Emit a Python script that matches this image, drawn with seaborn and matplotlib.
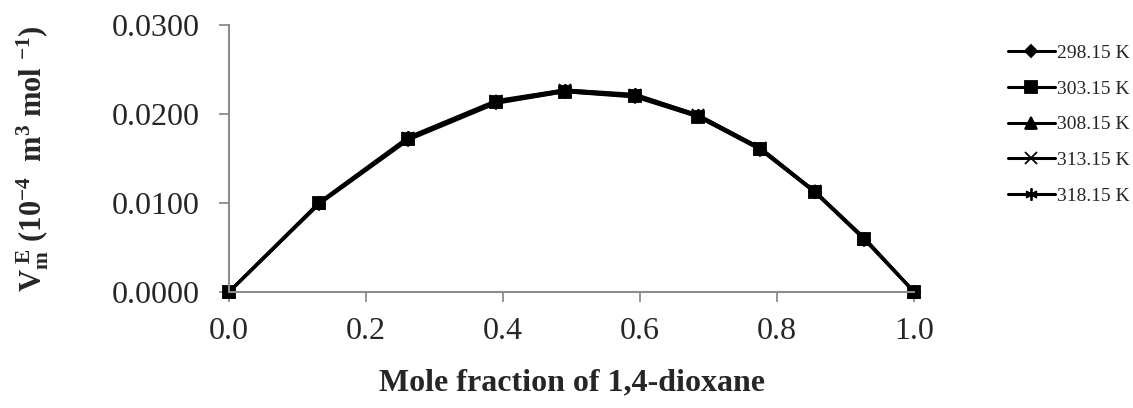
import pandas as pd
import matplotlib
matplotlib.use('Agg')
import matplotlib.pyplot as plt
import seaborn as sns

# mole fraction of 1,4-dioxane
x_frac = [0.0, 0.132, 0.262, 0.390, 0.490, 0.593, 0.684, 0.775, 0.855, 0.927, 1.0]

# excess molar volume at each temperature (10^-4 m3 mol-1)
v_298 = [0.0, 0.0099, 0.0171, 0.0212, 0.0225, 0.0219, 0.0197, 0.0160, 0.0112, 0.0059, 0.0]
v_303 = [0.0, 0.0100, 0.0172, 0.0213, 0.0225, 0.0220, 0.0197, 0.0161, 0.0112, 0.0060, 0.0]
v_308 = [0.0, 0.0100, 0.0173, 0.0214, 0.0226, 0.0221, 0.0198, 0.0161, 0.0113, 0.0060, 0.0]
v_313 = [0.0, 0.0100, 0.0173, 0.0214, 0.0227, 0.0221, 0.0199, 0.0162, 0.0113, 0.0060, 0.0]
v_318 = [0.0, 0.0101, 0.0174, 0.0215, 0.0227, 0.0222, 0.0199, 0.0162, 0.0113, 0.0061, 0.0]

temps = ['298.15 K', '303.15 K', '308.15 K', '313.15 K', '318.15 K']
series = [v_298, v_303, v_308, v_313, v_318]

rows = []
for t, vals in zip(temps, series):
    for xv, yv in zip(x_frac, vals):
        rows.append({'x': xv, 'VE': yv, 'T': t})
df = pd.DataFrame(rows)

sns.set_style('white')
plt.rcParams['font.family'] = ['Liberation Serif', 'DejaVu Serif']
plt.rcParams['mathtext.fontset'] = 'custom'
plt.rcParams['mathtext.rm'] = 'Liberation Serif'
plt.rcParams['mathtext.bf'] = 'Liberation Serif:bold'
plt.rcParams['mathtext.it'] = 'Liberation Serif:bold'
plt.rcParams['mathtext.default'] = 'bf'

fig = plt.figure(figsize=(11.33, 4.08), dpi=100)
ax = fig.add_axes([0.202, 0.284, 0.605, 0.655])

markers = {'298.15 K': 'D', '303.15 K': 's', '308.15 K': '^',
           '313.15 K': 'x', '318.15 K': (6, 2, 0)}
msizes = {'298.15 K': 6, '303.15 K': 9, '308.15 K': 8, '313.15 K': 8, '318.15 K': 9}

for t in temps:
    sub = df[df['T'] == t]
    sns.lineplot(data=sub, x='x', y='VE', ax=ax, color='black', lw=2.2,
                 marker=markers[t], markersize=msizes[t], markeredgecolor='black',
                 markeredgewidth=1.3, label=t, clip_on=False)

ax.set_xlim(0, 1.0)
ax.set_ylim(0, 0.03)
ax.set_xticks([0.0, 0.2, 0.4, 0.6, 0.8, 1.0])
ax.set_yticks([0.0, 0.01, 0.02, 0.03])
ax.set_xticklabels(['0.0', '0.2', '0.4', '0.6', '0.8', '1.0'])
ax.set_yticklabels(['0.0000', '0.0100', '0.0200', '0.0300'])

for s in ['top', 'right']:
    ax.spines[s].set_visible(False)
for s in ['left', 'bottom']:
    ax.spines[s].set_color('#8c8c8c')
    ax.spines[s].set_linewidth(1.5)
ax.tick_params(axis='both', direction='out', length=7, width=1.3, color='#8c8c8c',
               labelsize=23, bottom=True, left=True)
ax.tick_params(axis='x', pad=11)
ax.tick_params(axis='y', pad=14)

ax.set_xlabel('Mole fraction of 1,4-dioxane', fontsize=23, fontweight='bold', labelpad=16)
ax.set_ylabel(r'$V_m^{\ E}$ (10$^{-4}$  m$^3$ mol $^{-1}$)', fontsize=22,
              fontweight='bold', labelpad=44)

leg = ax.legend(loc='upper left', bbox_to_anchor=(0.881, 0.915),
                bbox_transform=fig.transFigure, frameon=False, fontsize=14,
                handlelength=2.4, handletextpad=0.1, labelspacing=0.93, borderpad=0)

plt.savefig('out.png', dpi=100)
